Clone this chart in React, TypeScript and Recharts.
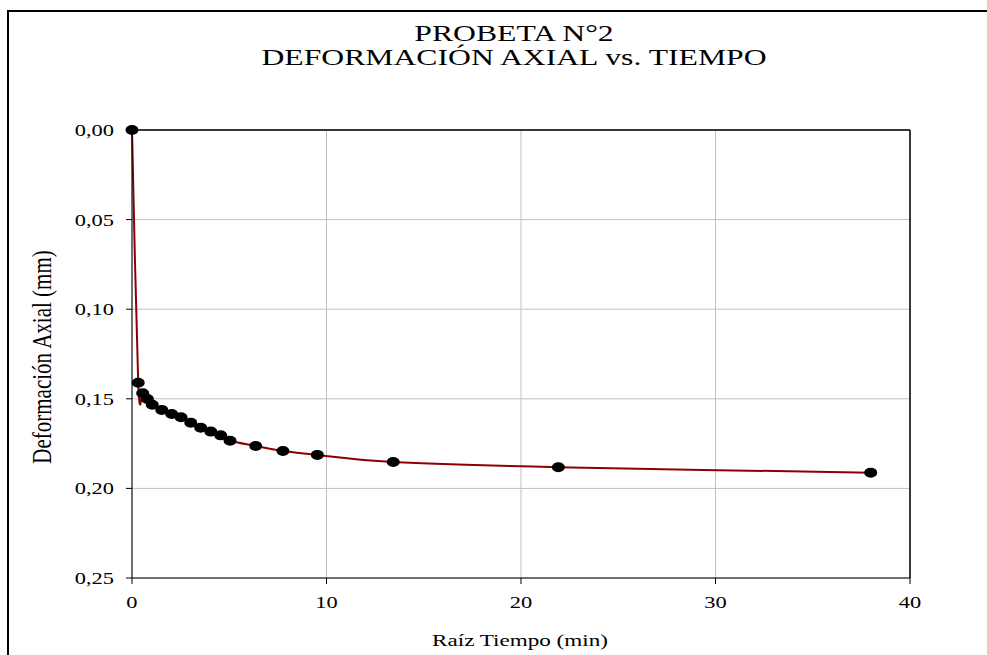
import React from 'react';
import { LineChart, Line, XAxis, YAxis, CartesianGrid, ReferenceLine } from 'recharts';

// raíz del tiempo (min) y deformación axial (mm)
const raizTiempo = [0, 0.32, 0.55, 0.79, 1.04, 1.53, 2.04, 2.52, 3.02, 3.53, 4.05, 4.56, 5.04, 6.36, 7.76, 9.53, 13.43, 21.92, 37.98];
const deformacion = [0, 0.141, 0.1469, 0.1501, 0.1533, 0.1562, 0.1585, 0.1603, 0.1633, 0.1661, 0.1683, 0.1704, 0.1734, 0.1763, 0.1791, 0.1813, 0.1853, 0.1882, 0.1912];
const xTicks = [0, 10, 20, 30, 40];
const yTicks = [0, 0.05, 0.1, 0.15, 0.2, 0.25];

const data = raizTiempo.map((t, i) => ({ t, d: deformacion[i] }));

const font = '"Liberation Serif", "Times New Roman", serif';
const stretch = 1.32; // el original está ensanchado en horizontal

// suavizado tipo Excel (Catmull-Rom -> Bezier), incluye el sobrepaso cerca del origen
const excelCurve = (context: any) => {
  let pts: [number, number][] = [];
  return {
    areaStart() {},
    areaEnd() {},
    lineStart() {
      pts = [];
    },
    lineEnd() {
      const n = pts.length;
      if (!n) return;
      context.moveTo(pts[0][0], pts[0][1]);
      for (let i = 0; i < n - 1; i++) {
        const p0 = pts[Math.max(0, i - 1)];
        const p1 = pts[i];
        const p2 = pts[i + 1];
        const p3 = pts[Math.min(n - 1, i + 2)];
        context.bezierCurveTo(
          p1[0] + (p2[0] - p0[0]) / 6,
          p1[1] + (p2[1] - p0[1]) / 6,
          p2[0] - (p3[0] - p1[0]) / 6,
          p2[1] - (p3[1] - p1[1]) / 6,
          p2[0],
          p2[1]
        );
      }
    },
    point(x: number, y: number) {
      pts.push([x, y]);
    },
  };
};

const Dot = (props: any) => {
  const { cx, cy } = props;
  if (cx == null || cy == null) return null;
  return <ellipse cx={cx} cy={cy} rx={6.5} ry={5} fill="#000" />;
};

const fmt = (v: number) => v.toFixed(2).replace('.', ',');

const XTick = (props: any) => {
  const { x, y, payload } = props;
  return (
    <text
      x={x}
      y={y}
      dy="0.71em"
      textAnchor="middle"
      fill="#000"
      fontSize={17}
      fontFamily={font}
      transform={`translate(${x},0) scale(${stretch},1) translate(${-x},0)`}
    >
      {payload.value}
    </text>
  );
};

const YTick = (props: any) => {
  const { x, y, payload } = props;
  return (
    <text
      x={x}
      y={y}
      dy="0.355em"
      textAnchor="end"
      fill="#000"
      fontSize={17}
      fontFamily={font}
      transform={`translate(${x},0) scale(${stretch},1) translate(${-x},0)`}
    >
      {fmt(payload.value)}
    </text>
  );
};

export default function App() {
  return (
    <div style={{ position: 'absolute', left: 0, top: 0, width: 987, height: 655, overflow: 'hidden', background: '#fff', fontFamily: font }}>
      <div style={{ position: 'absolute', left: 7, top: 10, width: 1000, height: 700, borderLeft: '2px solid #000', borderTop: '2px solid #000' }} />
      <div
        style={{
          position: 'absolute',
          left: 0,
          top: 21,
          width: 1028,
          textAlign: 'center',
          fontSize: 24,
          lineHeight: '24px',
          color: '#000',
          transform: `scaleX(${stretch})`,
          transformOrigin: '514px 0',
        }}
      >
        <div>PROBETA N°2</div>
        <div>DEFORMACIÓN AXIAL vs. TIEMPO</div>
      </div>
      <div style={{ position: 'absolute', left: 0, top: 0 }}>
        <LineChart width={987} height={655} data={data} margin={{ top: 130, right: 77, bottom: 47, left: 72 }}>
          <CartesianGrid stroke="#c0c0c0" strokeWidth={1} horizontalValues={yTicks} verticalValues={xTicks} />
          <XAxis
            dataKey="t"
            type="number"
            domain={[0, 40]}
            ticks={xTicks}
            height={30}
            stroke="#000"
            tickSize={6}
            tickMargin={12}
            tick={<XTick />}
          />
          <YAxis
            type="number"
            reversed
            domain={[0, 0.25]}
            ticks={yTicks}
            width={60}
            stroke="#000"
            tickSize={6}
            tickMargin={12}
            tick={<YTick />}
          />
          <ReferenceLine y={0} stroke="#000" strokeWidth={1.5} />
          <ReferenceLine x={40} stroke="#000" strokeWidth={1.5} />
          <Line
            dataKey="d"
            type={excelCurve as any}
            stroke="#8b0000"
            strokeWidth={2}
            dot={<Dot />}
            activeDot={false}
            isAnimationActive={false}
          />
        </LineChart>
      </div>
      <div
        style={{
          position: 'absolute',
          left: 0,
          top: 630,
          width: 1040,
          textAlign: 'center',
          fontSize: 17.5,
          lineHeight: '20px',
          color: '#000',
          transform: `scaleX(${stretch})`,
          transformOrigin: '520px 0',
        }}
      >
        Raíz Tiempo (min)
      </div>
      <div
        style={{
          position: 'absolute',
          left: 42,
          top: 357,
          transform: `translate(-50%, -50%) rotate(-90deg) scaleY(${stretch})`,
          whiteSpace: 'nowrap',
          fontSize: 21,
          lineHeight: '22px',
          color: '#000',
        }}
      >
        Deformación Axial (mm)
      </div>
    </div>
  );
}
